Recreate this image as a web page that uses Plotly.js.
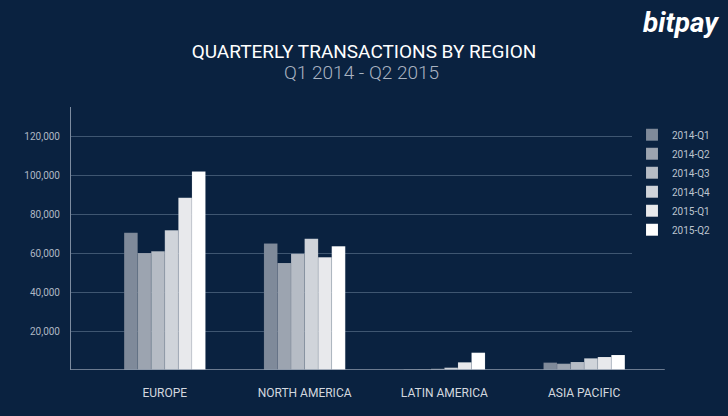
<!DOCTYPE html>
<html>
<head>
<meta charset="utf-8">
<script src="https://cdn.plot.ly/plotly-3.0.1.min.js"></script>
<style>html,body{margin:0;padding:0;background:#0a2240;}#chart{width:728px;height:416px;}</style>
</head>
<body>
<div id="chart"></div>
<script>
const regions = ["EUROPE", "NORTH AMERICA", "LATIN AMERICA", "ASIA PACIFIC"];
const quarters = ["2014-Q1", "2014-Q2", "2014-Q3", "2014-Q4", "2015-Q1", "2015-Q2"];
const q2014_1 = [70600, 65000, 300, 3800];
const q2014_2 = [60100, 55000, 300, 3250];
const q2014_3 = [61000, 59800, 600, 4100];
const q2014_4 = [71800, 67500, 1200, 6000];
const q2015_1 = [88600, 57900, 3950, 6700];
const q2015_2 = [102100, 63600, 8900, 7700];
const yTicks = [20000, 40000, 60000, 80000, 100000, 120000];
const yTickText = ["20,000", "40,000", "60,000", "80,000", "100,000", "120,000"];

const series = [q2014_1, q2014_2, q2014_3, q2014_4, q2015_1, q2015_2];
const colors = ["#7f8a9a", "#9ca4b0", "#b6bcc5", "#d0d4da", "#e8e9ec", "#ffffff"];

const traces = series.map((vals, i) => ({
  type: "bar",
  name: quarters[i],
  x: regions,
  y: vals,
  marker: {color: colors[i], line: {color: "rgba(10,34,64,0.15)", width: 0.5}},
  hoverinfo: "x+y+name"
}));

const layout = {
  width: 728, height: 416,
  paper_bgcolor: "#0a2240",
  plot_bgcolor: "#0a2240",
  margin: {l: 71, r: 92, t: 107, b: 46, pad: 0},
  font: {family: "Roboto, 'Open Sans', sans-serif", color: "#c5ccd6"},
  barmode: "group",
  bargap: 0.418,
  bargroupgap: 0,
  title: {
    text: "QUARTERLY TRANSACTIONS BY REGION",
    x: 0.5, xanchor: "center", xref: "container",
    y: 1 - 51/416, yanchor: "middle", yref: "container",
    font: {size: 19, color: "#ffffff", family: "Roboto, sans-serif"}
  },
  xaxis: {
    type: "category",
    range: [-0.671, 3.342],
    showgrid: false, zeroline: false, showline: false,
    ticks: "",
    ticklabelstandoff: 14,
    tickfont: {size: 12, color: "#d3d8df"},
    fixedrange: true
  },
  yaxis: {
    range: [0, 135200],
    tickvals: yTicks, ticktext: yTickText,
    showgrid: true, gridcolor: "#3f5671", gridwidth: 1,
    zeroline: false,
    showline: true, linecolor: "#7d8ca0", linewidth: 1,
    ticks: "",
    ticklabelstandoff: 8,
    tickfont: {size: 10, color: "#aeb7c3"},
    fixedrange: true
  },
  legend: {
    x: 1.0, xanchor: "left", xref: "paper",
    y: 0.95, yanchor: "top",
    bgcolor: "rgba(0,0,0,0)",
    font: {size: 10, color: "#bcc4cf"},
    tracegroupgap: 0
  },
  shapes: [{
    type: "line", xref: "paper", yref: "y",
    x0: 0, x1: (669 - 71) / 565, y0: 0, y1: 0,
    line: {color: "#8d99aa", width: 1.5}
  }],
  annotations: [
    {
      text: "Q1 2014 - Q2 2015",
      xref: "paper", yref: "paper",
      x: (364 - 71) / 565, y: (370 - 72) / 263, xanchor: "center", yanchor: "middle",
      showarrow: false,
      font: {size: 19, color: "#a9b3c0", family: "Roboto, sans-serif", weight: 300}
    },
    {
      text: "<b><i>bitpay</i></b>",
      xref: "paper", yref: "paper",
      x: (726 - 71) / 565, y: (370 - 22) / 263, xanchor: "right", yanchor: "middle",
      showarrow: false,
      font: {size: 28, color: "#ffffff", family: "Roboto, sans-serif"}
    }
  ]
};

Plotly.newPlot("chart", traces, layout, {displayModeBar: false, staticPlot: true});
</script>
</body>
</html>
